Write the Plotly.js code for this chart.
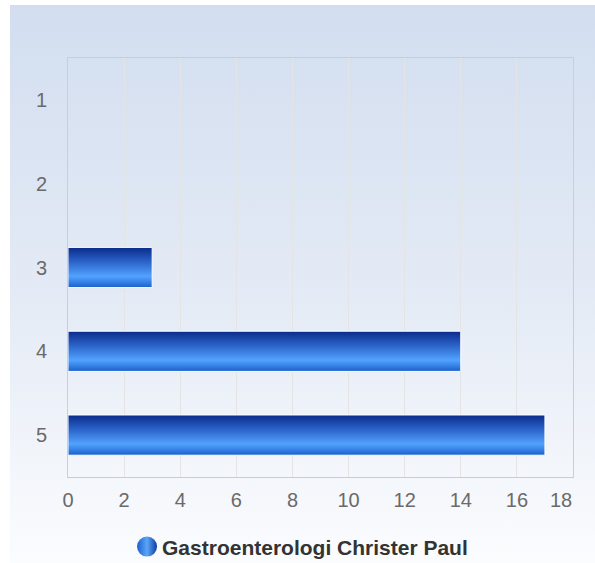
<!DOCTYPE html>
<html><head><meta charset="utf-8">
<script src="https://cdn.plot.ly/plotly-3.0.1.min.js"></script>
<style>
html,body{margin:0;padding:0;background:#fff;overflow:hidden;}
#bg{position:absolute;left:10px;top:5px;width:585px;height:558px;background:linear-gradient(to bottom,#d2def0 0%,#e3eaf5 50%,#fbfcfe 100%);}
#chart{position:absolute;left:0;top:0;width:595px;height:563px;}
</style></head><body>
<div id="bg"></div><div id="chart"></div>
<script>
const categories = ['1', '2', '3', '4', '5'];
const values = [0, 0, 3, 14, 17];
const seriesName = 'Gastroenterologi Christer Paul';
const xTickValues = [0, 2, 4, 6, 8, 10, 12, 14, 16, 18];

const barTrace = {
  type: 'bar', orientation: 'h',
  y: categories, x: values,
  width: 0.48,
  marker: {color: '#2f78e0', line: {color: '#ffffff', width: values.map(function(v){ return v > 0 ? 1 : 0; })}},
  showlegend: false, hoverinfo: 'x+y'
};
const legendTrace = {
  type: 'scatter', mode: 'markers',
  x: [null], y: [null],
  name: seriesName,
  marker: {symbol: 'circle', size: 18, color: '#3a86ec'},
  showlegend: true
};

const layout = {
  width: 595, height: 563,
  paper_bgcolor: 'rgba(0,0,0,0)', plot_bgcolor: 'rgba(0,0,0,0)',
  margin: {l: 68, r: 22, t: 58, b: 86, autoexpand: false},
  font: {family: '"Liberation Sans", Arial, sans-serif', color: '#666666', size: 20},
  xaxis: {
    range: [0, 18], tickvals: xTickValues, ticktext: xTickValues.map(String),
    showgrid: true, gridcolor: '#e4e4e4', gridwidth: 1,
    zeroline: false, showline: true, linecolor: '#cccccc', linewidth: 1, mirror: true,
    ticks: '', ticklabelstandoff: 5,
    tickfont: {size: 20, color: '#6a6a6a'}, fixedrange: true
  },
  yaxis: {
    type: 'category', categoryorder: 'array', categoryarray: categories,
    autorange: 'reversed', showgrid: false, zeroline: false,
    showline: true, linecolor: '#c4cfe0', linewidth: 1, mirror: true,
    ticks: '', ticklabelstandoff: 16,
    tickfont: {size: 20, color: '#6a6a6a'}, fixedrange: true
  },
  bargap: 0.52,
  showlegend: true,
  legend: {
    orientation: 'h', x: 0.107, xanchor: 'left', y: -0.167, yanchor: 'middle',
    bgcolor: 'rgba(0,0,0,0)', itemsizing: 'trace',
    font: {size: 21, color: '#333333', weight: 'bold'}
  }
};

Plotly.newPlot('chart', [barTrace, legendTrace], layout, {displayModeBar: false, staticPlot: true}).then(function(gd){
  const svg = gd.querySelector('svg.main-svg');
  let defs = svg.querySelector('defs');
  const ns = 'http://www.w3.org/2000/svg';
  function mkGrad(id, x2, y2, stops){
    const g = document.createElementNS(ns, 'linearGradient');
    g.setAttribute('id', id);
    g.setAttribute('x1', '0'); g.setAttribute('y1', '0');
    g.setAttribute('x2', x2); g.setAttribute('y2', y2);
    stops.forEach(function(s){
      const st = document.createElementNS(ns, 'stop');
      st.setAttribute('offset', s[0]); st.setAttribute('stop-color', s[1]);
      g.appendChild(st);
    });
    defs.appendChild(g);
  }
  mkGrad('barGrad', '0', '1', [['0', '#0a2b8a'], ['0.35', '#2a62c8'], ['0.72', '#52a2ff'], ['1', '#1a60cc']]);
  mkGrad('legGrad', '1', '0', [['0', '#1d5fd0'], ['0.5', '#5aa6f8'], ['1', '#0e3d9e']]);
  gd.querySelectorAll('.barlayer .point path').forEach(function(p){ p.style.fill = 'url(#barGrad)'; });
  gd.querySelectorAll('.legend .scatterpts').forEach(function(p){
    p.style.fill = 'url(#legGrad)';
    const t = p.getAttribute('transform') || '';
    p.setAttribute('transform', t + ' translate(5,0) scale(1.25)');
  });
  // keep the last x tick label inside the plot's right edge
  const xt = gd.querySelectorAll('.xtick text');
  if (xt.length) {
    const last = xt[xt.length - 1];
    last.setAttribute('x', String(parseFloat(last.getAttribute('x') || '0') - 12));
  }
});
</script>
</body></html>
